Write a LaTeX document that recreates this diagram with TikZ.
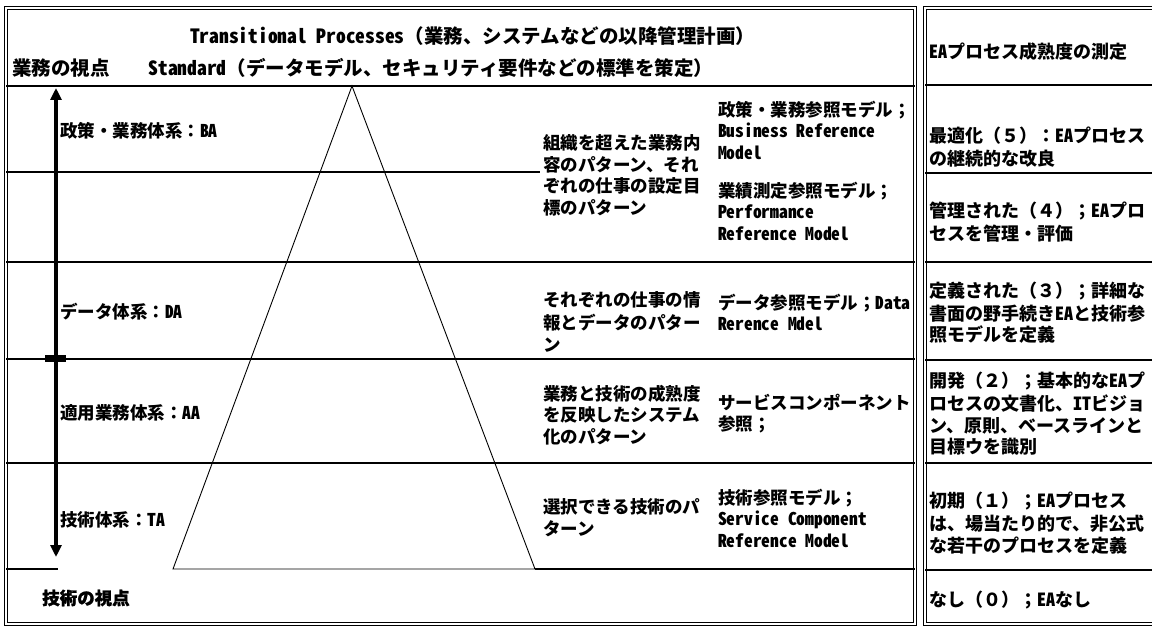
\documentclass[tikz,border=0pt]{standalone}
\usepackage{fontspec}
\setmainfont{Noto Sans CJK JP}
\newfontfamily\hwfont[RawFeature=+hwid]{Noto Sans CJK JP}
\newfontfamily\heavyfont[FakeBold=1.2]{Noto Sans CJK JP}
\newcommand\hw[1]{{\hwfont\bfseries #1}}
\usetikzlibrary{arrows.meta}
\begin{document}
\begin{tikzpicture}[x=1pt,y=-1pt,
  frame/.style={draw=black, line width=0.8pt, double, double distance=1.6pt},
  grid/.style={draw=black, line width=1.1pt},
  tri/.style={draw=black, line width=0.9pt},
  lbl/.style={anchor=west, inner sep=0pt, font=\fontsize{17.5}{21.5}\selectfont\bfseries},
  para/.style={anchor=north west, inner sep=0pt, align=left, font=\fontsize{17.5}{21.5}\selectfont\bfseries},
  rpara/.style={anchor=north west, inner sep=0pt, align=left, font=\fontsize{18}{21.5}\selectfont\bfseries},
  rlbl/.style={anchor=west, inner sep=0pt, font=\fontsize{18}{21.5}\selectfont\bfseries},
  head/.style={anchor=west, inner sep=0pt, font=\fontsize{19.5}{22}\selectfont\bfseries},
  bigarrow/.style={line width=4pt, {Triangle[width=11pt,length=12pt]}-{Triangle[width=11pt,length=12pt]}},
]
\useasboundingbox (0,0) rectangle (1152,628);
\fill[white] (0,0) rectangle (1152,628);
% frames
\draw[frame] (6,8) rectangle (915,624);
\draw[frame] (925,8) rectangle (1175,624);
% left grid
\draw[grid] (6,86) -- (915,86);
\draw[grid] (6,172) -- (540,172);
\draw[grid] (6,262) -- (915,262);
\draw[grid] (6,359) -- (915,359);
\draw[grid] (6,463) -- (915,463);
\draw[grid] (6,569) -- (58,569);
\draw[grid] (535,569) -- (915,569);
% right grid
\draw[grid] (925,85) -- (1175,85);
\draw[grid] (925,173) -- (1175,173);
\draw[grid] (925,262) -- (1175,262);
\draw[grid] (925,360) -- (1175,360);
\draw[grid] (925,463) -- (1175,463);
\draw[grid] (925,570) -- (1175,570);
% triangle
\coordinate (apex) at (352,86);
\coordinate (bl) at (173,569);
\coordinate (br) at (535,569);
\draw[tri] (apex) -- (bl) -- (br) -- cycle;
% arrow
\coordinate (atop) at (56,88);
\coordinate (abot) at (56,557);
\draw[bigarrow] (atop) -- (abot);
\coordinate (tk1) at (45,359);
\coordinate (tk2) at (66,359);
\draw[line width=7pt] (tk1) -- (tk2);
% header
\node[head] (h1) at (190,36) {\hw{Transitional Processes}（業務、システムなどの以降管理計画）};
\node[head] (h2) at (12,68) {業務の視点　　\hw{Standard}（データモデル、セキュリティ要件などの標準を策定）};
% left labels
\node[lbl] (ba) at (60,131) {政策・業務体系：\hw{BA}};
\node[lbl] (da) at (60,312) {データ体系：\hw{DA}};
\node[lbl] (aa) at (60,413) {適用業務体系：\hw{AA}};
\node[lbl] (ta) at (60,520) {技術体系：\hw{TA}};
\node[lbl, font=\fontsize{17.5}{21.5}\selectfont\heavyfont\bfseries] (tv) at (42,598) {技術の視点};
% middle descriptions
\node[para] (m1) at (543,134.6) {\strut 組織を超えた業務内\\容のパターン、それ\\ぞれの仕事の設定目\\標のパターン};
\node[para] (m2) at (543,291.6) {\strut それぞれの仕事の情\\報とデータのパター\\ン};
\node[para] (m3) at (543,384.6) {\strut 業務と技術の成熟度\\を反映したシステム\\化のパターン};
\node[para] (m4) at (543,498.6) {\strut 選択できる技術のパ\\ターン};
% reference models
\node[para] (r1) at (718,100.6) {\strut 政策・業務参照モデル；\\\hw{Business Reference}\\\hw{Model}};
\node[para] (r2) at (718,181.6) {\strut 業績測定参照モデル；\\\hw{Performance}\\\hw{Reference Model}};
\node[para] (r3) at (718,293.6) {\strut データ参照モデル；\hw{Data}\\\hw{Rerence Mdel}};
\node[para] (r4) at (718,393.6) {\strut サービスコンポーネント\\参照；};
\node[para] (r5) at (718,488.6) {\strut 技術参照モデル；\\\hw{Service Component}\\\hw{Reference Model}};
% right column
\node[rlbl] (c0) at (929,52) {\hw{EA}プロセス成熟度の測定};
\node[rpara] (c5) at (929,126.8) {\strut 最適化（５）：\hw{EA}プロセス\\の継続的な改良};
\node[rpara] (c4) at (929,201.8) {\strut 管理された（４）；\hw{EA}プロ\\セスを管理・評価};
\node[rpara] (c3) at (929,281.8) {\strut 定義された（３）；詳細な\\書面の野手続き\hw{EA}と技術参\\照モデルを定義};
\node[rpara] (c2) at (929,371.8) {\strut 開発（２）；基本的な\hw{EA}プ\\ロセスの文書化、\hw{IT}ビジョ\\ン、原則、ベースラインと\\目標ウを識別};
\node[rpara] (c1) at (929,491.8) {\strut 初期（１）；\hw{EA}プロセス\\は、場当たり的で、非公式\\な若干のプロセスを定義};
\node[rlbl] (cn) at (929,600) {なし（０）；\hw{EA}なし};
\end{tikzpicture}
\end{document}
